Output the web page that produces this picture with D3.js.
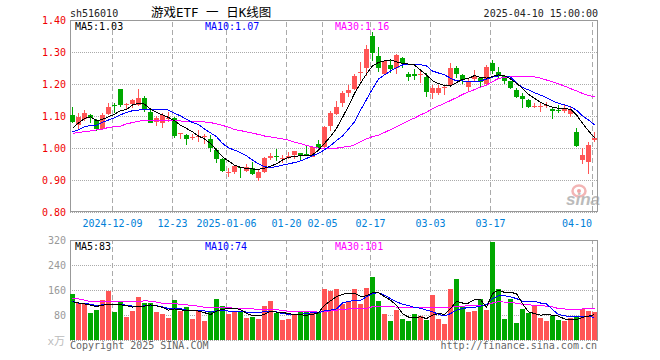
<!DOCTYPE html>
<html>
<head>
<meta charset="utf-8">
<script src="https://cdn.jsdelivr.net/npm/d3@7"></script>
<style>
  html, body { margin: 0; padding: 0; background: #fff; }
  text { font-family: "DejaVu Sans Mono", "Noto Sans CJK SC", monospace; font-size: 10px; }
  .domain { display: none; }
</style>
</head>
<body>
<svg id="chart" width="660" height="360" style="display:block"></svg>
<script>
const symbol = "sh516010";
const title = "游戏ETF 一 日K线图";
const stamp = "2025-04-10 15:00:00";

// trading day index -> label on the x axis
const tickDays = [7, 17, 26, 36, 42, 50, 60, 70, 87];
const tickDates = ["2024-12-09", "12-23", "2025-01-06", "01-20", "02-05", "02-17", "03-03", "03-17", "04-10"];
const priceTicks = [0.8, 0.9, 1.0, 1.1, 1.2, 1.3, 1.4];
const volTicks = [0, 80, 160, 240, 320];

const opens = [
  1.105,1.073,1.091,1.105,1.089,1.061,1.107,1.136,1.186,1.136,
  1.139,1.136,1.158,1.113,1.084,1.081,1.094,1.094,1.045,1.042,
  1.034,1.036,1.036,1.030,0.995,0.967,0.924,0.926,0.942,0.930,
  0.940,0.907,0.926,0.971,0.976,0.967,0.971,0.980,0.985,0.984,
  0.974,1.013,1.006,1.071,1.108,1.143,1.174,1.186,1.237,1.251,
  1.352,1.289,1.233,1.261,1.252,1.284,1.233,1.233,1.230,1.224,
  1.172,1.172,1.189,1.198,1.252,1.230,1.193,1.217,1.219,1.201,
  1.267,1.238,1.226,1.211,1.183,1.163,1.152,1.131,1.131,1.133,
  1.123,1.120,1.118,1.108,1.051,0.964,0.959,1.027];
const closes = [
  1.084,1.098,1.112,1.096,1.061,1.105,1.130,1.134,1.136,1.139,
  1.152,1.158,1.122,1.081,1.094,1.105,1.096,1.039,1.047,1.029,
  1.036,1.039,1.039,1.001,0.967,0.930,0.926,0.945,0.939,0.943,
  0.919,0.927,0.971,0.976,0.974,0.969,0.976,0.992,0.980,0.982,
  1.006,1.001,1.066,1.110,1.131,1.172,1.183,1.226,1.239,1.311,
  1.297,1.252,1.274,1.248,1.292,1.266,1.224,1.227,1.233,1.176,
  1.189,1.189,1.191,1.252,1.233,1.214,1.209,1.227,1.207,1.254,
  1.242,1.230,1.211,1.190,1.161,1.155,1.131,1.133,1.133,1.136,
  1.118,1.118,1.126,1.120,1.008,0.980,1.011,1.032];
const highs = [
  1.129,1.110,1.120,1.108,1.091,1.110,1.141,1.143,1.186,1.143,
  1.155,1.186,1.165,1.120,1.101,1.110,1.113,1.099,1.047,1.045,
  1.045,1.058,1.045,1.042,1.002,0.971,0.938,0.948,0.943,0.951,
  0.959,0.933,0.974,0.985,1.000,0.980,0.988,0.993,0.987,1.008,
  1.008,1.026,1.070,1.118,1.148,1.180,1.198,1.233,1.271,1.323,
  1.363,1.316,1.277,1.279,1.295,1.287,1.240,1.247,1.247,1.235,
  1.198,1.198,1.195,1.268,1.258,1.232,1.221,1.245,1.224,1.261,
  1.276,1.254,1.230,1.212,1.188,1.172,1.154,1.141,1.146,1.146,
  1.131,1.136,1.138,1.131,1.063,1.002,1.019,1.051];
const lows = [
  1.079,1.058,1.087,1.081,1.055,1.058,1.105,1.110,1.131,1.120,
  1.126,1.133,1.115,1.079,1.070,1.065,1.084,1.034,1.029,1.011,
  1.026,1.021,1.013,0.990,0.954,0.926,0.911,0.919,0.907,0.926,
  0.917,0.898,0.922,0.964,0.961,0.954,0.966,0.967,0.964,0.980,
  0.972,0.995,1.002,1.056,1.105,1.131,1.162,1.183,1.211,1.226,
  1.274,1.240,1.230,1.237,1.233,1.251,1.211,1.214,1.204,1.160,
  1.155,1.167,1.167,1.193,1.219,1.201,1.177,1.212,1.193,1.195,
  1.233,1.219,1.201,1.186,1.157,1.127,1.126,1.126,1.115,1.126,
  1.091,1.110,1.112,1.099,1.006,0.952,0.920,1.019];

const ma5 = [
  1.063,1.080,1.094,1.099,1.087,1.091,1.099,1.107,1.118,1.122,
  1.136,1.141,1.139,1.123,1.113,1.105,1.097,1.087,1.073,1.063,
  1.052,1.039,1.030,1.016,0.995,0.974,0.961,0.948,0.941,0.938,
  0.936,0.935,0.938,0.945,0.952,0.964,0.972,0.976,0.977,0.977,
  0.980,0.995,1.016,1.037,1.063,1.097,1.133,1.172,1.204,1.233,
  1.258,1.269,1.274,1.277,1.271,1.266,1.264,1.261,1.245,1.230,
  1.212,1.203,1.197,1.195,1.206,1.216,1.219,1.228,1.222,1.220,
  1.225,1.230,1.228,1.217,1.204,1.188,1.169,1.157,1.144,1.136,
  1.129,1.126,1.124,1.123,1.105,1.079,1.055,1.034];
const ma10 = [
  1.052,1.058,1.068,1.072,1.073,1.082,1.089,1.096,1.105,1.113,
  1.118,1.120,1.122,1.122,1.122,1.122,1.120,1.110,1.102,1.091,
  1.081,1.075,1.061,1.049,1.037,1.016,1.002,0.995,0.987,0.977,
  0.964,0.952,0.943,0.941,0.943,0.948,0.952,0.956,0.961,0.969,
  0.977,0.985,0.996,1.009,1.025,1.039,1.061,1.083,1.120,1.153,
  1.186,1.217,1.230,1.242,1.253,1.261,1.262,1.263,1.262,1.258,
  1.242,1.236,1.230,1.220,1.211,1.211,1.209,1.209,1.211,1.217,
  1.223,1.227,1.227,1.223,1.205,1.191,1.183,1.174,1.167,1.159,
  1.149,1.141,1.136,1.131,1.120,1.102,1.089,1.074];
const ma30 = [
  1.047,1.051,1.052,1.055,1.058,1.060,1.066,1.068,1.070,1.077,
  1.081,1.085,1.088,1.089,1.089,1.089,1.088,1.087,1.086,1.085,
  1.084,1.083,1.083,1.081,1.077,1.072,1.067,1.059,1.056,1.052,
  1.048,1.044,1.039,1.036,1.033,1.030,1.026,1.020,1.015,1.010,
  1.005,1.001,0.999,0.999,1.001,1.004,1.006,1.011,1.021,1.030,
  1.037,1.042,1.050,1.059,1.068,1.077,1.087,1.095,1.105,1.113,
  1.125,1.133,1.141,1.150,1.159,1.169,1.177,1.184,1.192,1.198,
  1.209,1.219,1.222,1.224,1.225,1.226,1.225,1.224,1.220,1.214,
  1.208,1.202,1.195,1.187,1.180,1.172,1.166,1.161];

// volume, in 万
const vols = [
  148,120,116,87,97,129,158,91,124,75,
  94,139,120,120,91,84,71,129,94,107,
  68,94,62,94,132,110,84,91,94,71,
  75,68,110,126,87,65,68,81,91,94,
  94,87,164,158,164,116,126,164,116,167,
  203,126,84,62,97,68,62,84,78,65,
  145,68,52,164,196,110,91,94,132,97,
  315,164,68,132,55,100,87,110,71,62,
  78,65,62,71,75,100,94,91];
const volMa5 = [
  124,120,117,113,109,113,116,114,114,112,
  107,110,110,114,111,106,97,101,98,96,
  97,94,89,83,94,100,102,103,99,87,
  80,79,84,93,91,90,86,83,82,81,
  83,89,113,127,140,148,151,151,141,143,
  153,153,140,129,113,86,75,73,76,70,
  81,86,84,102,126,120,120,131,131,106,
  150,161,154,154,150,118,92,86,81,83,
  81,78,69,66,67,74,78,83];
const volMa10 = [
  126,120,120,116,112,114,114,116,116,113,
  110,108,111,111,111,108,102,101,102,97,
  97,97,95,91,95,97,94,94,94,91,
  89,89,93,93,92,86,84,82,84,86,
  89,89,95,97,101,120,125,128,128,140,
  150,153,145,134,124,116,112,106,103,97,
  92,84,79,86,97,102,106,106,110,116,
  134,143,143,140,134,126,126,125,120,117,
  99,83,79,76,76,76,77,74];
const volMa30 = [
  134,133,129,125,125,125,125,124,124,124,
  125,125,127,126,123,119,118,118,116,114,
  112,110,106,106,105,106,105,103,102,101,
  101,100,99,99,99,96,94,94,94,93,
  92,91,93,95,97,99,101,102,102,103,
  108,108,108,108,107,106,106,105,105,106,
  106,106,106,106,109,110,111,112,113,114,
  120,124,123,122,119,116,114,113,112,110,
  108,102,101,99,99,101,101,101];

const RED = "#ff5555", GREEN = "#00a800", FRAME = "#999", GRID = "#aaa";

const svg = d3.select("#chart");
const L = 70, R = 597;
const days = d3.range(closes.length);

const x = d3.scaleBand().domain(days).range([69.5, 597.5]).paddingInner(1 / 6).paddingOuter(1 / 12);
const cx = (i) => x(i) + x.bandwidth() / 2;
const y = d3.scaleLinear().domain([0.8, 1.4]).range([212, 20]);
const yVol = d3.scaleLinear().domain([0, 320]).range([340, 240]);

function yAxis(scale, ticks, fmt, color) {
  const g = svg.append("g").attr("transform", `translate(${L},0)`)
    .call(d3.axisLeft(scale).tickValues(ticks).tickFormat(fmt).tickSizeInner(-(R - L)).tickSizeOuter(0).tickPadding(4));
  g.selectAll("line").attr("stroke", GRID).attr("stroke-dasharray", "1,1").attr("shape-rendering", "crispEdges");
  g.selectAll("text").attr("fill", color);
}

function xGrid(top, bottom, labels) {
  const g = svg.append("g").attr("transform", `translate(-2,${bottom})`)
    .call(d3.axisBottom(x).tickValues(tickDays)
      .tickFormat((d, i) => labels ? tickDates[i] : "")
      .tickSizeInner(-(bottom - top)).tickSizeOuter(0).tickPadding(9));
  g.selectAll("line").attr("stroke", GRID).attr("stroke-dasharray", "5,3").attr("shape-rendering", "crispEdges");
  g.selectAll("text").attr("fill", "#0080d8");
  g.selectAll("text").filter((d) => d === 87).attr("text-anchor", "end").attr("dx", "-0.5");
}

// sina mark sits behind the candles
const logo = svg.append("g");
logo.append("ellipse").attr("cx", 579).attr("cy", 191).attr("rx", 6.5).attr("ry", 5.5)
  .attr("fill", "none").attr("stroke", "#f3b5b5").attr("stroke-width", 2.5);
logo.append("circle").attr("cx", 579).attr("cy", 191).attr("r", 2).attr("fill", "#f0a5a5");
logo.append("text").attr("x", 566).attr("y", 205).text("sina")
  .style("font-family", "'Liberation Sans'").style("font-size", "17px")
  .style("font-weight", "bold").style("font-style", "italic").attr("fill", "#bbb");

xGrid(21, 211, true);
xGrid(241, 340, false);
yAxis(y, priceTicks, d3.format(".2f"), "#f00000");
yAxis(yVol, volTicks, (d) => d || "", "#999");

svg.append("rect").attr("x", L + 0.5).attr("y", 20.5).attr("width", R - L).attr("height", 191)
  .attr("fill", "none").attr("stroke", FRAME).attr("shape-rendering", "crispEdges");
svg.append("path")
  .attr("d", d3.line()([[L + 0.5, 340.5], [L + 0.5, 240.5], [R + 0.5, 240.5], [R + 0.5, 340.5]]))
  .attr("fill", "none").attr("stroke", FRAME).attr("shape-rendering", "crispEdges");

// candles
const candles = svg.append("g").attr("transform", "translate(0,0.5)").attr("shape-rendering", "crispEdges");
const color = (i) => closes[i] >= opens[i] ? RED : GREEN;

candles.selectAll(".wick").data(days).enter().append("rect").attr("class", "wick")
  .attr("x", (i) => x(i) + 2).attr("width", 1)
  .attr("y", (i) => y(highs[i])).attr("height", (i) => y(lows[i]) - y(highs[i]))
  .attr("fill", color);
candles.selectAll(".body").data(days).enter().append("rect").attr("class", "body")
  .attr("x", (i) => x(i)).attr("width", x.bandwidth())
  .attr("y", (i) => y(Math.max(opens[i], closes[i])))
  .attr("height", (i) => Math.max(1, Math.abs(y(opens[i]) - y(closes[i]))))
  .attr("fill", color);

// volume bars
svg.append("g").attr("shape-rendering", "crispEdges").selectAll("rect").data(days).enter().append("rect")
  .attr("x", (i) => x(i)).attr("width", x.bandwidth())
  .attr("y", (i) => yVol(vols[i])).attr("height", (i) => yVol(0) - yVol(vols[i]))
  .attr("fill", color);

function maLine(values, scale, stroke) {
  const line = d3.line().x((d, i) => cx(i)).y((d) => scale(d) + 0.5);
  svg.append("path").datum(values).attr("d", line)
    .attr("fill", "none").attr("stroke", stroke).attr("stroke-width", 1)
    .attr("shape-rendering", "crispEdges");
}
maLine(ma30, y, "#ff00ff");
maLine(ma10, y, "#0000ff");
maLine(ma5, y, "#000");
maLine(volMa30, yVol, "#ff00ff");
maLine(volMa10, yVol, "#0000ff");
maLine(volMa5, yVol, "#000");

function label(px, py, txt, fill, anchor) {
  return svg.append("text").attr("x", px).attr("y", py).attr("fill", fill)
    .attr("text-anchor", anchor || "start").text(txt);
}

// header
label(70, 17, symbol, "#222");
label(151, 17, title, "#000").style("font-size", "12.5px");
label(598, 17, stamp, "#222", "end");

// legends
label(75, 30, "MA5:" + ma5[87].toFixed(2), "#000");
label(205, 30, "MA10:" + ma10[87].toFixed(2), "#0000ff");
label(335, 30, "MA30:" + ma30[87].toFixed(2), "#ff00ff");
label(75, 250, "MA5:" + volMa5[87], "#000");
label(205, 250, "MA10:" + volMa10[87], "#0000ff");
label(335, 250, "MA30:" + volMa30[87], "#ff00ff");

// footer
label(65, 345, "x万", "#bbb", "end").style("font-size", "11px");
label(70, 349, "Copyright 2025 SINA.COM", "#666");
label(597, 349, "http://finance.sina.com.cn", "#666", "end");
</script>
</body>
</html>
